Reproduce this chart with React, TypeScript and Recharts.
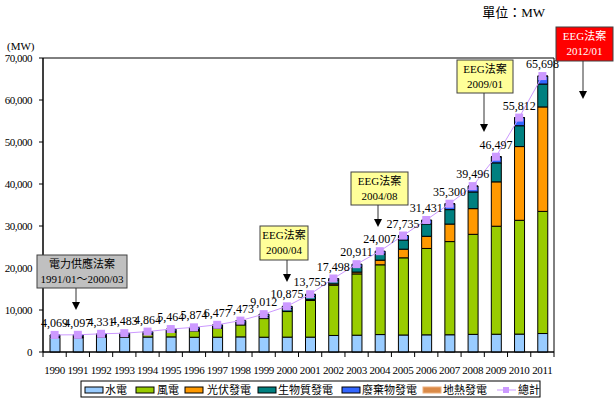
import {
  ComposedChart,
  Bar,
  Line,
  XAxis,
  YAxis,
  ReferenceArea,
  LabelList,
} from 'recharts'

const years = [
  '1990', '1991', '1992', '1993', '1994', '1995', '1996', '1997', '1998', '1999', '2000',
  '2001', '2002', '2003', '2004', '2005', '2006', '2007', '2008', '2009', '2010', '2011',
]
const hydro = [3429, 3394, 3550, 3509, 3563, 3595, 3510, 3525, 3601, 3523, 3538, 3538, 3937, 4000, 4150, 4050, 4085, 4107, 4200, 4230, 4260, 4400]
const wind = [55, 106, 174, 326, 618, 1121, 1549, 2089, 2877, 4435, 6097, 8738, 11976, 14593, 16612, 18375, 20568, 22183, 23815, 25716, 27097, 29075]
const solar = [1, 2, 3, 5, 6, 8, 11, 18, 23, 32, 76, 186, 296, 435, 1105, 2056, 2899, 4170, 6120, 10566, 17554, 24875]
const biomass = [129, 129, 151, 157, 176, 217, 254, 304, 404, 480, 664, 790, 952, 1137, 1444, 2203, 2938, 3439, 3969, 4519, 4960, 5445]
const waste = [455, 466, 453, 486, 501, 523, 550, 541, 568, 542, 500, 503, 340, 746, 696, 1051, 941, 1398, 1389, 1458, 1933, 1895]
const geothermal = [0, 0, 0, 0, 0, 0, 0, 0, 0, 0, 0, 0, 0, 0, 0, 0, 0, 3, 3, 8, 8, 8]
const totals = [4069, 4097, 4331, 4483, 4864, 5464, 5874, 6477, 7473, 9012, 10875, 13755, 17498, 20911, 24007, 27735, 31431, 35300, 39496, 46497, 55812, 65698]
const yTicks = [0, 10000, 20000, 30000, 40000, 50000, 60000, 70000]

const data = years.map((year, i) => ({
  year,
  hydro: hydro[i],
  wind: wind[i],
  solar: solar[i],
  biomass: biomass[i],
  waste: waste[i],
  geothermal: geothermal[i],
  total: totals[i],
}))

const W = 616
const H = 399
const xAxisHeight = 20
const margin = { top: 58, right: 62, bottom: 47 - xAxisHeight, left: 0 }
const yAxisWidth = 43
const band = (W - yAxisWidth - margin.right) / years.length

const serif = "'Liberation Serif', 'Times New Roman', serif"
const cjk = "'Liberation Serif', 'Noto Sans CJK TC', serif"
const lavender = '#CC99FF'

const fmt = (v: number) => v.toLocaleString('en-US')

function XTick(props: any) {
  const { x, y, payload, index } = props
  const left = x - band / 2
  return (
    <g>
      <line x1={left} y1={y} x2={left} y2={y + 5} stroke="#000" />
      {index === years.length - 1 && (
        <line x1={x + band / 2} y1={y} x2={x + band / 2} y2={y + 5} stroke="#000" />
      )}
      <text x={x} y={y + 22} textAnchor="middle" fontSize={11} fontFamily={serif} fill="#000" letterSpacing={-0.3}>
        {payload.value}
      </text>
    </g>
  )
}

function SquareDot(props: any) {
  const { cx, cy } = props
  if (cx == null || cy == null) return null
  return <rect x={cx - 4} y={cy - 4} width={8} height={8} fill={lavender} />
}

function TotalLabel(props: any) {
  const { x, y, value } = props
  return (
    <text x={x} y={y - 8} textAnchor="middle" fontSize={12} fontFamily={serif} fill="#000">
      {fmt(Number(value))}
    </text>
  )
}

const notes = [
  { l1: '電力供應法案', l2: '1991/01～2000/03', x: 37, y: 255, w: 90, h: 33, ax: 76, tip: 310, fill: '#C0C0C0', color: '#000' },
  { l1: 'EEG法案', l2: '2000/04', x: 260, y: 226, w: 48, h: 34, ax: 287, tip: 282, fill: '#FFFF99', color: '#000' },
  { l1: 'EEG法案', l2: '2004/08', x: 351, y: 172, w: 57, h: 33, ax: 378, tip: 227, fill: '#FFFF99', color: '#000' },
  { l1: 'EEG法案', l2: '2009/01', x: 457, y: 60, w: 56, h: 33, ax: 484, tip: 132, fill: '#FFFF99', color: '#000' },
  { l1: 'EEG法案', l2: '2012/01', x: 556, y: 27, w: 57, h: 34, ax: 583, tip: 99, fill: '#FF0000', color: '#fff' },
]

const legendItems = [
  { name: '水電', color: '#99CCFF', sx: 85, tx: 105 },
  { name: '風電', color: '#99CC00', sx: 136, tx: 157 },
  { name: '光伏發電', color: '#FF9900', sx: 185, tx: 207 },
  { name: '生物質發電', color: '#008080', sx: 258, tx: 278 },
  { name: '廢棄物發電', color: '#3366FF', sx: 342, tx: 362 },
  { name: '地熱發電', color: '#DA8A48', sx: 423, tx: 443 },
]

export default function App() {
  return (
    <div style={{ position: 'absolute', left: 0, top: 0, width: W, height: H, background: '#fff' }}>
      <ComposedChart width={W} height={H} data={data} margin={margin}>
        <XAxis
          dataKey="year"
          height={xAxisHeight}
          interval={0}
          tickLine={false}
          tickSize={0}
          tickMargin={0}
          axisLine={{ stroke: '#000' }}
          tick={<XTick />}
        />
        <YAxis
          width={yAxisWidth}
          domain={[0, 70000]}
          ticks={yTicks}
          tickFormatter={fmt}
          tickSize={4}
          tickMargin={7}
          axisLine={{ stroke: '#000' }}
          tickLine={{ stroke: '#000' }}
          tick={{ fill: '#000', fontSize: 11, fontFamily: serif, letterSpacing: -0.5 }}
        />
        <ReferenceArea y1={0} y2={70000} fill="none" stroke="#000" strokeWidth={1} ifOverflow="extendDomain" />
        <Bar dataKey="hydro" stackId="a" fill="#99CCFF" stroke="#000" strokeWidth={1} barSize={10} isAnimationActive={false} />
        <Bar dataKey="wind" stackId="a" fill="#99CC00" stroke="#000" strokeWidth={1} barSize={10} isAnimationActive={false} />
        <Bar dataKey="solar" stackId="a" fill="#FF9900" stroke="#000" strokeWidth={1} barSize={10} isAnimationActive={false} />
        <Bar dataKey="biomass" stackId="a" fill="#008080" stroke="#000" strokeWidth={1} barSize={10} isAnimationActive={false} />
        <Bar dataKey="waste" stackId="a" fill="#3366FF" stroke="#000" strokeWidth={1} barSize={10} isAnimationActive={false} />
        <Bar dataKey="geothermal" stackId="a" fill="#DA8A48" stroke="#000" strokeWidth={1} barSize={10} isAnimationActive={false} />
        <Line
          dataKey="total"
          type="linear"
          stroke={lavender}
          strokeWidth={1}
          dot={<SquareDot />}
          activeDot={false}
          isAnimationActive={false}
        >
          <LabelList dataKey="total" content={<TotalLabel />} />
        </Line>
      </ComposedChart>

      <svg width={W} height={H} style={{ position: 'absolute', left: 0, top: 0, pointerEvents: 'none' }}>
        <text x={545} y={17} textAnchor="end" fontSize={13} fontFamily={cjk} fill="#000">單位：MW</text>
        <text x={7} y={50} fontSize={11} fontFamily={serif} fill="#000">(MW)</text>
        {notes.map((n, i) => (
          <g key={i}>
            <rect x={n.x} y={n.y} width={n.w} height={n.h} fill={n.fill} stroke="#404040" strokeWidth={1} />
            <text x={n.x + n.w / 2} y={n.y + 13} textAnchor="middle" fontSize={11} fontFamily={cjk} fill={n.color}>{n.l1}</text>
            <text x={n.x + n.w / 2} y={n.y + 28} textAnchor="middle" fontSize={11} fontFamily={cjk} fill={n.color}>{n.l2}</text>
            <line x1={n.ax} y1={n.y + n.h} x2={n.ax} y2={n.tip - 7} stroke="#333" strokeWidth={1} />
            <polygon points={`${n.ax - 4},${n.tip - 8} ${n.ax + 4},${n.tip - 8} ${n.ax},${n.tip}`} fill="#000" />
          </g>
        ))}
        <rect x={81} y={381} width={459} height={16} fill="#fff" stroke="#000" strokeWidth={1} />
        {legendItems.map((it) => (
          <g key={it.name}>
            <rect x={it.sx} y={387} width={18} height={6} fill={it.color} stroke={it.name === '地熱發電' ? '#EDB07C' : '#000'} strokeWidth={1} />
            <text x={it.tx} y={394} fontSize={11} fontFamily={cjk} fill="#000">{it.name}</text>
          </g>
        ))}
        <line x1={497} y1={390} x2={516} y2={390} stroke={lavender} strokeWidth={1} />
        <rect x={503} y={387} width={6} height={6} fill={lavender} />
        <text x={518} y={394} fontSize={11} fontFamily={cjk} fill="#000">總計</text>
      </svg>
    </div>
  )
}
